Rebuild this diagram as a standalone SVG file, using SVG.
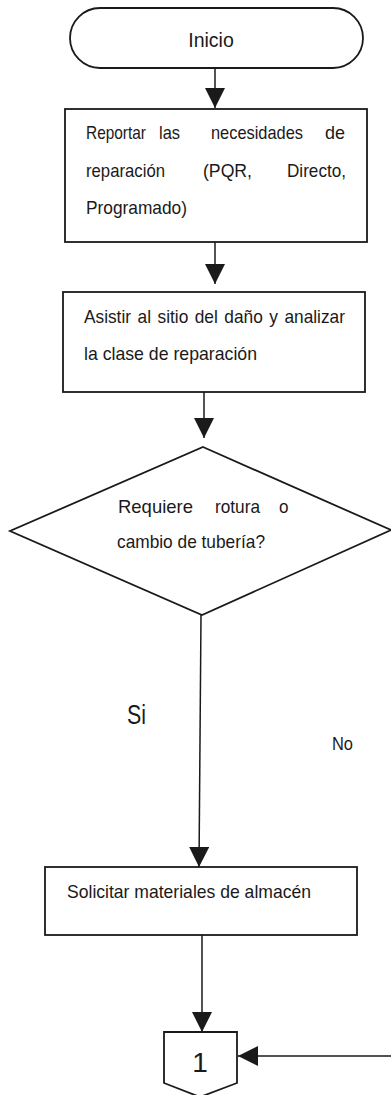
<svg xmlns="http://www.w3.org/2000/svg" width="391" height="1095" viewBox="0 0 391 1095">
<style>
.shape{fill:#fff;stroke:#1a1a1a;stroke-width:1.8}
.conn{fill:none;stroke:#1a1a1a;stroke-width:1.5}
.t{font-family:"Liberation Sans",Arial,sans-serif;font-size:19px;fill:#1a1a1a}
</style>
<defs>
<marker id="ah" markerUnits="userSpaceOnUse" markerWidth="20" markerHeight="20" refX="20" refY="10" orient="auto" viewBox="0 0 20 20">
<path d="M0,0 L20,10 L0,20 z" fill="#1a1a1a"/>
</marker>
</defs>
<rect width="391" height="1095" fill="#fff"/>
<g id="connectors">
<line class="conn" x1="215" y1="68" x2="215" y2="108" marker-end="url(#ah)"/>
<line class="conn" x1="215" y1="242" x2="215" y2="284" marker-end="url(#ah)"/>
<line class="conn" x1="204" y1="392" x2="204" y2="438" marker-end="url(#ah)"/>
<line class="conn" x1="201" y1="615" x2="199" y2="867" marker-end="url(#ah)"/>
<line class="conn" x1="202" y1="935" x2="202" y2="1032" marker-end="url(#ah)"/>
<line class="conn" x1="391" y1="1056" x2="238" y2="1056" marker-end="url(#ah)"/>
<text class="t" x="127" y="724" style="font-size:27px" textLength="19" lengthAdjust="spacingAndGlyphs">Si</text>
<text class="t" x="332" y="750" style="font-size:19px" textLength="21" lengthAdjust="spacingAndGlyphs">No</text>
</g>
<g id="inicio">
<rect class="shape" x="70" y="8" width="293" height="60" rx="30" ry="30"/>
<text class="t" x="211" y="47" style="font-size:19.5px" text-anchor="middle">Inicio</text>
</g>
<g id="reportar">
<rect class="shape" x="65" y="109" width="302" height="133"/>
<text class="t" x="86" y="139" textLength="60" lengthAdjust="spacingAndGlyphs">Reportar</text>
<text class="t" x="159" y="139" textLength="21" lengthAdjust="spacingAndGlyphs">las</text>
<text class="t" x="211" y="139" textLength="92" lengthAdjust="spacingAndGlyphs">necesidades</text>
<text class="t" x="325" y="139" textLength="20" lengthAdjust="spacingAndGlyphs">de</text>
<text class="t" x="86" y="177" textLength="79" lengthAdjust="spacingAndGlyphs">reparación</text>
<text class="t" x="203" y="177" textLength="49" lengthAdjust="spacingAndGlyphs">(PQR,</text>
<text class="t" x="287" y="177" textLength="59" lengthAdjust="spacingAndGlyphs">Directo,</text>
<text class="t" x="86" y="214" textLength="101" lengthAdjust="spacingAndGlyphs">Programado)</text>
</g>
<g id="asistir">
<rect class="shape" x="63" y="292" width="302" height="100"/>
<text class="t" x="84" y="323" textLength="47" lengthAdjust="spacingAndGlyphs">Asistir</text>
<text class="t" x="137.5" y="323" textLength="13.5" lengthAdjust="spacingAndGlyphs">al</text>
<text class="t" x="157.5" y="323" textLength="30.8" lengthAdjust="spacingAndGlyphs">sitio</text>
<text class="t" x="194.7" y="323" textLength="23.1" lengthAdjust="spacingAndGlyphs">del</text>
<text class="t" x="224.3" y="323" textLength="38.5" lengthAdjust="spacingAndGlyphs">daño</text>
<text class="t" x="269.2" y="323" textLength="8.7" lengthAdjust="spacingAndGlyphs">y</text>
<text class="t" x="284.4" y="323" textLength="60.6" lengthAdjust="spacingAndGlyphs">analizar</text>
<text class="t" x="84" y="360" textLength="173" lengthAdjust="spacingAndGlyphs">la clase de reparación</text>
</g>
<g id="decision">
<polygon class="shape" points="203,447 391,530 202,615 10,531"/>
<text class="t" x="118" y="513" textLength="75" lengthAdjust="spacingAndGlyphs">Requiere</text>
<text class="t" x="215" y="513" textLength="45" lengthAdjust="spacingAndGlyphs">rotura</text>
<text class="t" x="279" y="513" textLength="9.5" lengthAdjust="spacingAndGlyphs">o</text>
<text class="t" x="117" y="548" textLength="148" lengthAdjust="spacingAndGlyphs">cambio de tubería?</text>
</g>
<g id="solicitar">
<rect class="shape" x="45" y="867" width="312" height="68"/>
<text class="t" x="67" y="898" textLength="244" lengthAdjust="spacingAndGlyphs">Solicitar materiales de almacén</text>
</g>
<g id="conector1">
<polygon class="shape" points="164,1032 237,1032 237,1083 200,1097 164,1083"/>
<text class="t" x="200" y="1072" style="font-size:28px" text-anchor="middle">1</text>
</g>
</svg>
